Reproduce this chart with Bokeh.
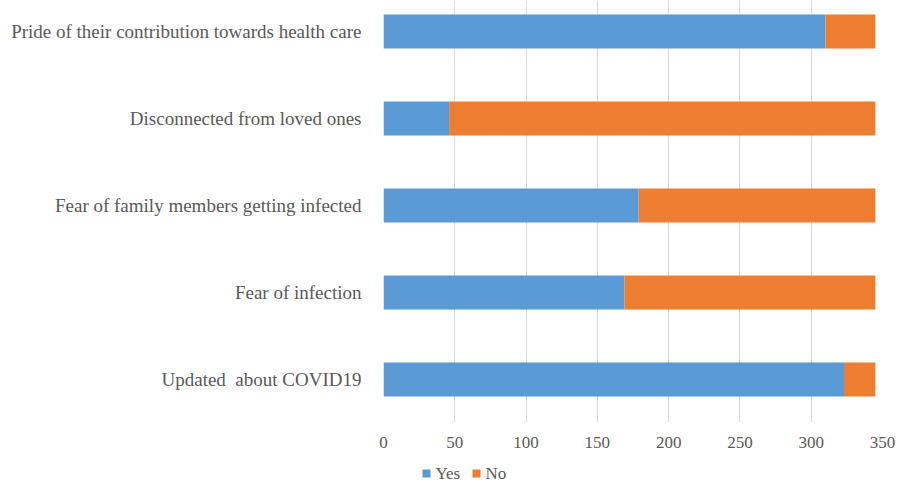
from bokeh.plotting import figure
from bokeh.models import Range1d, FixedTicker, ColumnDataSource
from bokeh.core.properties import value
from bokeh.layouts import column
from bokeh.embed import file_html
from bokeh.resources import INLINE

categories = [
    "Updated\u00a0 about COVID19",
    "Fear of infection",
    "Fear of family members getting infected",
    "Disconnected from loved ones",
    "Pride of their contribution towards health care",
]
yes_values = [323, 169, 179, 46, 310]
no_values = [22, 176, 166, 299, 35]
x_ticks = [0, 50, 100, 150, 200, 250, 300, 350]
series_names = ["Yes", "No"]

BLUE = "#5b9bd5"
ORANGE = "#ed7d31"
TEXT = "#595959"
FONT = "Liberation Serif"

W = 915
FRAME_L, FRAME_R = 383, 882

ypos = list(range(len(categories)))
src = ColumnDataSource(dict(
    y=ypos,
    yes=yes_values,
    total=[a + b for a, b in zip(yes_values, no_values)],
    zero=[0] * len(categories),
))

p = figure(width=W, height=456, output_backend="svg", toolbar_location=None,
           x_range=Range1d(0, 350), y_range=Range1d(-0.494, 4.356),
           min_border_left=FRAME_L, min_border_right=W - FRAME_R,
           min_border_top=0, min_border_bottom=34)
p.outline_line_color = None
p.background_fill_color = "white"
p.border_fill_color = "white"

p.hbar(y="y", left="zero", right="yes", height=0.39, source=src,
       fill_color=BLUE, line_color=None)
p.hbar(y="y", left="yes", right="total", height=0.39, source=src,
       fill_color=ORANGE, line_color=None)

p.xaxis.ticker = FixedTicker(ticks=x_ticks)
p.xaxis.axis_line_color = None
p.xaxis.major_tick_line_color = None
p.xaxis.minor_tick_line_color = None
p.xaxis.major_label_text_font = FONT
p.xaxis.major_label_text_font_size = "17px"
p.xaxis.major_label_text_color = TEXT
p.xaxis.major_label_standoff = 8

p.yaxis.ticker = FixedTicker(ticks=ypos)
p.yaxis.major_label_overrides = {i: c for i, c in zip(ypos, categories)}
p.yaxis.axis_line_color = None
p.yaxis.major_tick_line_color = None
p.yaxis.minor_tick_line_color = None
p.yaxis.major_label_text_font = FONT
p.yaxis.major_label_text_font_size = "19px"
p.yaxis.major_label_text_color = TEXT
p.yaxis.major_label_standoff = 16

p.xgrid.grid_line_color = "#d9d9d9"
p.ygrid.grid_line_color = None

# Legend strip below the chart; its frame is aligned with the chart frame,
# so its x range is expressed in page pixels of that frame.
LG_H = 27
lg = figure(width=W, height=LG_H, output_backend="svg", toolbar_location=None,
            x_range=Range1d(FRAME_L, FRAME_R), y_range=Range1d(0, LG_H),
            x_axis_location=None, y_axis_location=None,
            min_border_left=FRAME_L, min_border_right=W - FRAME_R,
            min_border_top=0, min_border_bottom=0)
lg.outline_line_color = None
lg.grid.visible = False
lg.border_fill_color = "white"

leg_x0 = 426      # centre of first legend swatch (page px)
leg_step = 50     # distance between legend entries
leg_y = 10
swatch_x = [leg_x0 + i * leg_step for i in range(len(series_names))]
leg_src = ColumnDataSource(dict(
    sx=swatch_x,
    tx=[x + 9 for x in swatch_x],
    y=[leg_y] * len(series_names),
    label=series_names,
    color=[BLUE, ORANGE],
))
lg.rect(x="sx", y="y", width=8, height=8, width_units="screen",
        height_units="screen", source=leg_src,
        fill_color="color", line_color=None)
lg.text(x="tx", y="y", text="label", source=leg_src,
        text_font=value(FONT), text_font_size="17px", text_color=TEXT,
        text_align="left", text_baseline="middle")

layout = column(p, lg, spacing=0)
open("out.html", "w").write(file_html(layout, INLINE))
